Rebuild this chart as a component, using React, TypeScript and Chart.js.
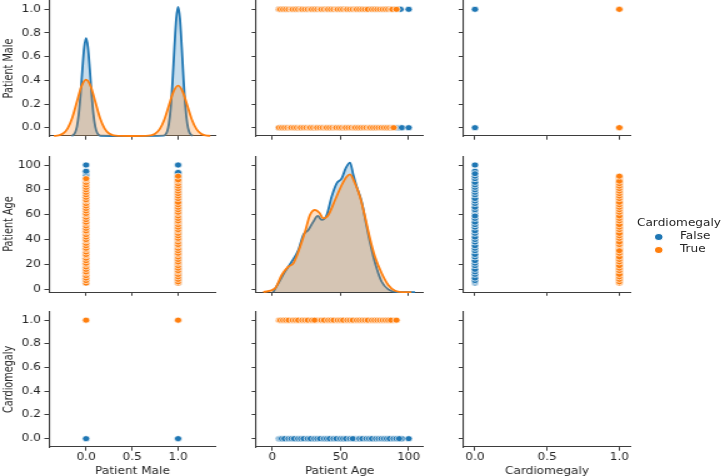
import { useEffect, useRef } from 'react';
import { Chart, registerables } from 'chart.js';
Chart.register(...registerables);

// ---------- data ----------
const variables = ['Patient Male', 'Patient Age', 'Cardiomegaly'];
const hueTitle = 'Cardiomegaly';
const hueLabels = ['False', 'True'];

// ages of patients per (Cardiomegaly, sex) group
const agesFalseFemale = [5, 6, 8, 10, 11, 13, 15, 17, 18, 20, 22, 24, 25, 27, 29, 30, 32, 34, 36, 37, 39, 41, 43, 44, 46, 48, 49, 51, 53, 55, 56, 58, 60, 61, 63, 65, 67, 68, 70, 72, 74, 75, 77, 79, 81, 83, 85, 87, 88, 90, 92, 94, 95, 100];
const agesFalseMale = [5, 7, 9, 10, 12, 14, 16, 17, 19, 21, 23, 25, 26, 28, 30, 31, 33, 35, 36, 38, 40, 42, 43, 45, 47, 49, 50, 52, 54, 56, 57, 59, 61, 63, 64, 66, 68, 69, 71, 73, 75, 76, 78, 80, 82, 84, 86, 88, 89, 91, 93, 94, 100];
const agesTrueFemale = [5, 7, 9, 11, 13, 14, 16, 18, 20, 21, 23, 25, 27, 28, 30, 32, 33, 35, 37, 39, 40, 42, 44, 46, 47, 49, 51, 53, 54, 56, 58, 60, 61, 63, 65, 67, 69, 71, 72, 74, 76, 78, 80, 82, 84, 86, 88, 89];
const agesTrueMale = [5, 6, 8, 10, 12, 14, 15, 17, 19, 21, 22, 24, 26, 28, 29, 31, 33, 35, 36, 38, 40, 41, 43, 45, 47, 48, 50, 52, 54, 55, 57, 59, 61, 62, 64, 66, 68, 70, 73, 75, 77, 79, 81, 83, 85, 87, 88, 91];

// KDE of Patient Male (height above baseline)
const kdeMaleFalseX = [-0.16, -0.14, -0.12, -0.10, -0.08, -0.06, -0.04, -0.02, 0, 0.02, 0.04, 0.06, 0.08, 0.10, 0.12, 0.14, 0.16, 0.5, 0.84, 0.86, 0.88, 0.90, 0.92, 0.94, 0.96, 0.98, 1.0, 1.02, 1.04, 1.06, 1.08, 1.10, 1.12, 1.14, 1.16];
const kdeMaleFalseY = [0.002, 0.008, 0.028, 0.078, 0.182, 0.353, 0.567, 0.752, 0.827, 0.752, 0.567, 0.353, 0.182, 0.078, 0.028, 0.008, 0.002, 0, 0.003, 0.011, 0.036, 0.103, 0.24, 0.466, 0.747, 0.992, 1.09, 0.992, 0.747, 0.466, 0.24, 0.103, 0.036, 0.011, 0.003];
const kdeMaleTrueX = [-0.35, -0.30, -0.25, -0.20, -0.15, -0.10, -0.05, 0, 0.05, 0.10, 0.15, 0.20, 0.25, 0.30, 0.35, 0.5, 0.65, 0.70, 0.75, 0.80, 0.85, 0.90, 0.95, 1.0, 1.05, 1.10, 1.15, 1.20, 1.25, 1.30, 1.35];
const kdeMaleTrueY = [0.001, 0.005, 0.021, 0.065, 0.155, 0.289, 0.421, 0.477, 0.421, 0.289, 0.155, 0.065, 0.021, 0.005, 0.001, 0, 0.001, 0.005, 0.019, 0.058, 0.138, 0.258, 0.375, 0.425, 0.375, 0.258, 0.138, 0.058, 0.019, 0.005, 0.001];

// KDE of Patient Age (height above baseline)
const kdeAgeFalseX = [0.7, 4.4, 9.3, 14.2, 19.1, 22.7, 26.4, 30.1, 33.3, 36.2, 39.9, 43.5, 47.2, 50.9, 53.8, 57.0, 59.4, 61.9, 65.5, 69.2, 72.9, 76.5, 80.2, 85.0, 92.4, 104.6];
const kdeAgeFalseY = [0, 7.0, 16.4, 24.4, 33.8, 45.9, 49.9, 56.6, 61.2, 58.0, 62.0, 76.7, 87.5, 91.5, 99.5, 104.1, 94.2, 84.7, 72.7, 52.6, 33.8, 19.1, 8.3, 2.2, 0, 0];
const kdeAgeTrueX = [-6.6, 2.0, 6.9, 11.7, 15.4, 19.1, 24.0, 27.6, 31.3, 34.5, 37.4, 41.1, 46.0, 50.9, 54.5, 57.0, 60.6, 64.3, 68.0, 71.6, 75.3, 80.2, 85.0, 90.0, 94.9, 102.0];
const kdeAgeTrueY = [0, 3.0, 13.7, 20.4, 23.1, 32.5, 48.5, 62.0, 66.0, 63.8, 59.3, 62.0, 74.0, 86.1, 92.8, 94.7, 87.5, 76.7, 60.6, 43.2, 28.4, 15.1, 5.7, 1.0, 0, 0];

// tick labels
const yTicksPerRow = [[0, 0.2, 0.4, 0.6, 0.8, 1.0], [0, 20, 40, 60, 80, 100], [0, 0.2, 0.4, 0.6, 0.8, 1.0]];
const xTicksPerCol = [[0, 0.5, 1.0], [0, 50, 100], [0, 0.5, 1.0]];
const tickFormat = [(v: number) => v.toFixed(1), (v: number) => String(Math.round(v)), (v: number) => v.toFixed(1)];

// ---------- layout / style ----------
const STRETCH = 1.25;
const FIG_W = 721;
const FIG_H = 476;
const FONT = { family: "'DejaVu Sans', sans-serif", size: 9.7 };
const BLUE = '#1f77b4';
const ORANGE = '#ff7f0e';
const BLUE_FILL = 'rgba(31,119,180,0.25)';
const ORANGE_FILL = 'rgba(255,127,14,0.25)';
const AXIS_COLOR = '#3d3d3d';
const TEXT_COLOR = '#262626';
const MARKER_R = 3.0;
const MARKER_EDGE = 0.7;

const colLeftRef = [49, 256.3, 463.3];
const colWidthRef = [167, 166.7, 167.4];
const rowTop = [1, 156.05, 311.8];
const rowHeight = [135, 136, 135.2];
const xRanges = [[-0.403, 1.412], [-11.73, 110.5], [-0.081, 1.079]];
const yRanges = [[-0.0704, 1.0704], [-2.2, 107.2], [-0.0704, 1.0704]];

type Pt = { x: number; y: number };
const zip = (xs: number[], ys: number[]): Pt[] => xs.map((x, i) => ({ x, y: ys[i] }));
const uniq = (pts: Pt[]): Pt[] => {
  const seen = new Set<string>();
  return pts.filter((p) => { const k = p.x + ',' + p.y; if (seen.has(k)) return false; seen.add(k); return true; });
};

// records: [male, age, cardio]
const recordsFalse: number[][] = [
  ...agesFalseFemale.map((a) => [0, a, 0]),
  ...agesFalseMale.map((a) => [1, a, 0]),
];
const recordsTrue: number[][] = [
  ...agesTrueFemale.map((a) => [0, a, 1]),
  ...agesTrueMale.map((a) => [1, a, 1]),
];

function scatterSets(xi: number, yi: number) {
  const mk = (recs: number[][]) => uniq(recs.map((r) => ({ x: r[xi], y: r[yi] })));
  const base = {
    pointRadius: MARKER_R,
    pointBorderColor: '#ffffff',
    pointBorderWidth: MARKER_EDGE,
    showLine: false,
    clip: false,
  };
  return [
    { ...base, label: hueLabels[0], data: mk(recordsFalse), backgroundColor: BLUE, pointBackgroundColor: BLUE, order: 2 },
    { ...base, label: hueLabels[1], data: mk(recordsTrue), backgroundColor: ORANGE, pointBackgroundColor: ORANGE, order: 1 },
  ];
}

function kdeSets(fx: number[], fy: number[], tx: number[], ty: number[]) {
  const base = {
    type: 'line',
    yAxisID: 'yk',
    pointRadius: 0,
    borderWidth: 1.8,
    fill: 'start',
    cubicInterpolationMode: 'monotone',
    clip: false,
  };
  return [
    { ...base, label: hueLabels[0], data: zip(fx, fy), borderColor: BLUE, backgroundColor: BLUE_FILL, order: 2 },
    { ...base, label: hueLabels[1], data: zip(tx, ty), borderColor: ORANGE, backgroundColor: ORANGE_FILL, order: 1 },
  ];
}

function axisConfig(axis: 'x' | 'y', idx: number, showLabels: boolean, title: string | null, forced: number) {
  const range = axis === 'x' ? xRanges[idx] : yRanges[idx];
  const ticks = axis === 'x' ? xTicksPerCol[idx] : yTicksPerRow[idx];
  const fmt = tickFormat[idx];
  return {
    type: 'linear',
    axis,
    position: axis === 'x' ? 'bottom' : 'left',
    min: range[0],
    max: range[1],
    grid: { display: true, drawOnChartArea: false, drawTicks: true, tickLength: axis === 'x' ? 3.7 : 3.7, color: AXIS_COLOR, lineWidth: 1 },
    border: { display: true, color: AXIS_COLOR, width: 1.1 },
    ticks: {
      autoSkip: false,
      maxRotation: 0,
      minRotation: 0,
      padding: axis === 'x' ? 0.8 : 2.8,
      color: TEXT_COLOR,
      font: FONT,
      callback: (v: any) => (showLabels ? fmt(Number(v)) : ''),
    },
    title: title
      ? { display: true, text: title, color: TEXT_COLOR, font: FONT, padding: axis === 'y' ? { top: 1.3, bottom: 0 } : { top: 0, bottom: -0.8 } }
      : { display: false },
    afterBuildTicks: (s: any) => { s.ticks = ticks.map((v) => ({ value: v })); },
    afterFit: (s: any) => {
      if (axis === 'x') { s.height = forced; s.paddingLeft = 0; s.paddingRight = 0; }
      else { s.width = forced; s.paddingTop = 0; s.paddingBottom = 0; }
    },
  };
}

type PanelSpec = { key: string; left: number; top: number; w: number; h: number; config: any };

function buildPanels(): PanelSpec[] {
  const panels: PanelSpec[] = [];
  for (let r = 0; r < 3; r++) {
    for (let c = 0; c < 3; c++) {
      const L = colLeftRef[c] / STRETCH;
      const W = colWidthRef[c] / STRETCH;
      const T = rowTop[r];
      const H = rowHeight[r];
      const cl = c === 0 ? 0 : Math.floor(L - 8);
      const ct = r === 0 ? 0 : Math.floor(T - 8);
      const cr = Math.ceil(L + W + 6);
      const cb = r === 2 ? FIG_H : Math.ceil(T + H + 8);
      const yW = L - cl;
      const padTop = T - ct;
      const padRight = cr - (L + W);
      const xH = cb - (T + H);

      let datasets: any[] = [];
      const scales: any = {
        x: axisConfig('x', c, r === 2, r === 2 ? variables[c] : null, xH),
        y: axisConfig('y', r, c === 0, c === 0 ? variables[r] : null, yW),
      };
      if (r === c) {
        if (r === 0) datasets = kdeSets(kdeMaleFalseX, kdeMaleFalseY, kdeMaleTrueX, kdeMaleTrueY);
        if (r === 1) datasets = kdeSets(kdeAgeFalseX, kdeAgeFalseY, kdeAgeTrueX, kdeAgeTrueY);
        scales.yk = { type: 'linear', axis: 'y', display: false, min: 0, max: yRanges[r][1] - yRanges[r][0] };
      } else {
        datasets = scatterSets(c, r);
      }
      panels.push({
        key: `p${r}${c}`,
        left: cl,
        top: ct,
        w: cr - cl,
        h: cb - ct,
        config: {
          type: 'scatter',
          data: { datasets },
          options: {
            animation: false,
            responsive: false,
            devicePixelRatio: 1,
            events: [],
            layout: { autoPadding: false, padding: { left: 0, top: padTop, right: padRight, bottom: 0 } },
            plugins: { legend: { display: false }, tooltip: { enabled: false } },
            scales,
          },
        },
      });
    }
  }
  return panels;
}

function Panel({ spec }: { spec: PanelSpec }) {
  const ref = useRef<HTMLCanvasElement>(null);
  useEffect(() => {
    if (!ref.current) return;
    const chart = new Chart(ref.current, spec.config);
    return () => chart.destroy();
  }, [spec]);
  return (
    <canvas
      ref={ref}
      width={spec.w}
      height={spec.h}
      style={{ position: 'absolute', left: spec.left, top: spec.top, width: spec.w, height: spec.h }}
    />
  );
}

const PANELS = buildPanels();

export default function App() {
  const textStyle: any = {
    position: 'absolute',
    fontFamily: FONT.family,
    fontSize: FONT.size,
    lineHeight: `${FONT.size * 1.2}px`,
    color: TEXT_COLOR,
    whiteSpace: 'nowrap',
  };
  const marker = (color: string, cx: number, cy: number) => ({
    position: 'absolute' as const,
    left: cx - MARKER_R - MARKER_EDGE,
    top: cy - MARKER_R - MARKER_EDGE,
    width: MARKER_R * 2,
    height: MARKER_R * 2,
    borderRadius: '50%',
    background: color,
    border: `${MARKER_EDGE}px solid #fff`,
  });
  const S = STRETCH;
  const off = FONT.size * 0.58;
  return (
    <div
      style={{
        position: 'absolute',
        left: 0,
        top: 0,
        width: FIG_W / S,
        height: FIG_H,
        transform: `scaleX(${S})`,
        transformOrigin: '0 0',
        background: '#ffffff',
        overflow: 'hidden',
      }}
    >
      {PANELS.map((p) => (
        <Panel key={p.key} spec={p} />
      ))}
      <div style={{ ...textStyle, left: 637 / S, top: 222.3 - off }}>{hueTitle}</div>
      <div style={marker(BLUE, 658.3 / S, 236.3)} />
      <div style={{ ...textStyle, left: 680 / S, top: 235.7 - off }}>{hueLabels[0]}</div>
      <div style={marker(ORANGE, 658.3 / S, 249.6)} />
      <div style={{ ...textStyle, left: 680 / S, top: 249 - off }}>{hueLabels[1]}</div>
    </div>
  );
}
